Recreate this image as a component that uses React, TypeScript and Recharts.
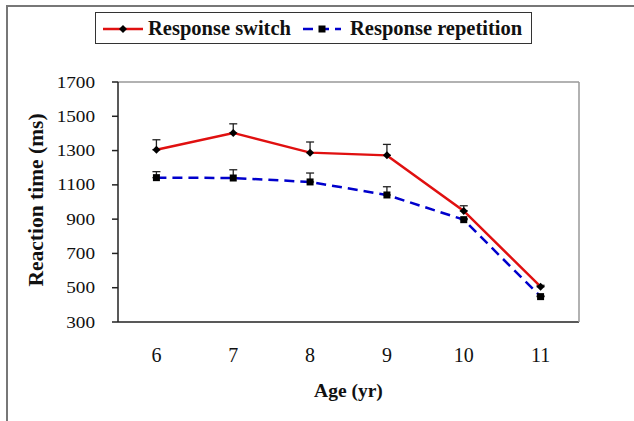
import React from 'react';
import { LineChart, Line, XAxis, YAxis, ErrorBar } from 'recharts';

const ages = [6, 7, 8, 9, 10, 11];
const switchRT = [1305, 1403, 1288, 1272, 948, 506];
const switchErr = [58, 53, 62, 64, 30, 8];
const repetitionRT = [1142, 1140, 1117, 1041, 897, 448];
const repetitionErr = [35, 48, 52, 48, 6, 4];
const yTicks = [300, 500, 700, 900, 1100, 1300, 1500, 1700];
const xBoundaries = [5.5, 6.5, 7.5, 8.5, 9.5, 10.5, 11.5];
const legendLabels = ['Response switch', 'Response repetition'];

const data = ages.map((a, i) => ({
  age: a,
  sw: switchRT[i],
  swErr: [0, switchErr[i]],
  rep: repetitionRT[i],
  repErr: [0, repetitionErr[i]],
}));

const FONT = '"Liberation Serif", "Times New Roman", serif';

const Diamond = (props: any) => {
  const { cx, cy } = props;
  if (cx == null || cy == null) return null;
  const r = 4;
  return <path d={`M${cx},${cy - r}L${cx + r},${cy}L${cx},${cy + r}L${cx - r},${cy}Z`} fill="#000" />;
};
const Square = (props: any) => {
  const { cx, cy } = props;
  if (cx == null || cy == null) return null;
  const r = 3.5;
  return <rect x={cx - r} y={cy - r} width={2 * r} height={2 * r} fill="#000" />;
};

const YTick = (props: any) => {
  const { x, y, payload } = props;
  return (
    <text x={x} y={y} dy="0.35em" textAnchor="end" fontFamily={FONT} fontSize={16} fill="#111"
      transform={`translate(${x},0) scale(1.2,1) translate(${-x},0)`}>
      {payload.value}
    </text>
  );
};
const XTick = (props: any) => {
  const { x, y, payload } = props;
  return (
    <text x={x} y={y} dy="0.35em" textAnchor="middle" fontFamily={FONT} fontSize={20} fill="#111">
      {payload.value}
    </text>
  );
};

export default function App() {
  return (
    <div style={{ position: 'absolute', left: 0, top: 0, width: 634, height: 421, background: '#fff', overflow: 'hidden' }}>
      <div style={{ position: 'absolute', left: 6, top: 5, width: 640, height: 430, borderTop: '2px solid #777', borderLeft: '2px solid #777' }} />
      <div style={{ position: 'absolute', left: 95, top: 12, width: 435, height: 30, border: '1.5px solid #333', fontFamily: FONT, fontWeight: 'bold', fontSize: 20.5, color: '#111', background: '#fff', zIndex: 2 }}>
        <svg width={40} height={12} style={{ position: 'absolute', left: 7, top: 10 }}>
          <line x1={0} y1={6} x2={40} y2={6} stroke="#e01010" strokeWidth={2.5} />
          <path d="M20,2L24,6L20,10L16,6Z" fill="#000" />
        </svg>
        <span style={{ position: 'absolute', left: 52, top: 3, whiteSpace: 'nowrap', lineHeight: '24px' }}>{legendLabels[0]}</span>
        <svg width={38} height={12} style={{ position: 'absolute', left: 207, top: 10 }}>
          <line x1={0} y1={6} x2={38} y2={6} stroke="#0000cc" strokeWidth={2.5} strokeDasharray="10 6" />
          <rect x={15.5} y={2.5} width={7} height={7} fill="#000" />
        </svg>
        <span style={{ position: 'absolute', left: 254, top: 3, whiteSpace: 'nowrap', lineHeight: '24px' }}>{legendLabels[1]}</span>
      </div>
      <div style={{ position: 'absolute', left: 0, top: 0 }}>
        <LineChart width={634} height={421} data={data} margin={{ top: 81, right: 54, left: 0, bottom: 39 }}>
          <XAxis xAxisId="bounds" type="number" dataKey="age" domain={[5.5, 11.5]} ticks={xBoundaries}
            height={1} tick={false} tickSize={6} axisLine={{ stroke: '#222', strokeWidth: 1.5 }} tickLine={{ stroke: '#222', strokeWidth: 1.5 }} allowDataOverflow />
          <XAxis xAxisId="main" type="number" dataKey="age" domain={[5.5, 11.5]} ticks={ages}
            height={59} axisLine={false} tickLine={false} tickSize={0} tickMargin={32} tick={<XTick />}
            label={{ value: 'Age (yr)', position: 'bottom', offset: 1, style: { fontFamily: FONT, fontWeight: 'bold', fontSize: 19.5, fill: '#111' } }} />
          <XAxis xAxisId="top" orientation="top" type="number" dataKey="age" domain={[5.5, 11.5]} height={1}
            tick={false} tickLine={false} axisLine={{ stroke: '#999', strokeWidth: 1.5 }} />
          <YAxis yAxisId="left" type="number" domain={[300, 1700]} ticks={yTicks} width={118} tickSize={6} tickMargin={17}
            axisLine={{ stroke: '#222', strokeWidth: 1.5 }} tickLine={{ stroke: '#222', strokeWidth: 1.5 }} tick={<YTick />}
            label={{ value: 'Reaction time (ms)', angle: -90, position: 'insideLeft', offset: 35, dy: -2, style: { textAnchor: 'middle', fontFamily: FONT, fontWeight: 'bold', fontSize: 21.5, fill: '#111' } }} />
          <YAxis yAxisId="right" orientation="right" type="number" domain={[300, 1700]} width={1}
            tick={false} tickLine={false} axisLine={{ stroke: '#999', strokeWidth: 1.5 }} />
          <Line xAxisId="main" yAxisId="left" dataKey="rep" stroke="#0000cc" strokeWidth={2.5} strokeDasharray="10 6"
            dot={<Square />} activeDot={false} isAnimationActive={false}>
            <ErrorBar dataKey="repErr" width={4} stroke="#222" strokeWidth={1.3} direction="y" />
          </Line>
          <Line xAxisId="main" yAxisId="left" dataKey="sw" stroke="#e01010" strokeWidth={2.5}
            dot={<Diamond />} activeDot={false} isAnimationActive={false}>
            <ErrorBar dataKey="swErr" width={4} stroke="#222" strokeWidth={1.3} direction="y" />
          </Line>
        </LineChart>
      </div>
    </div>
  );
}
